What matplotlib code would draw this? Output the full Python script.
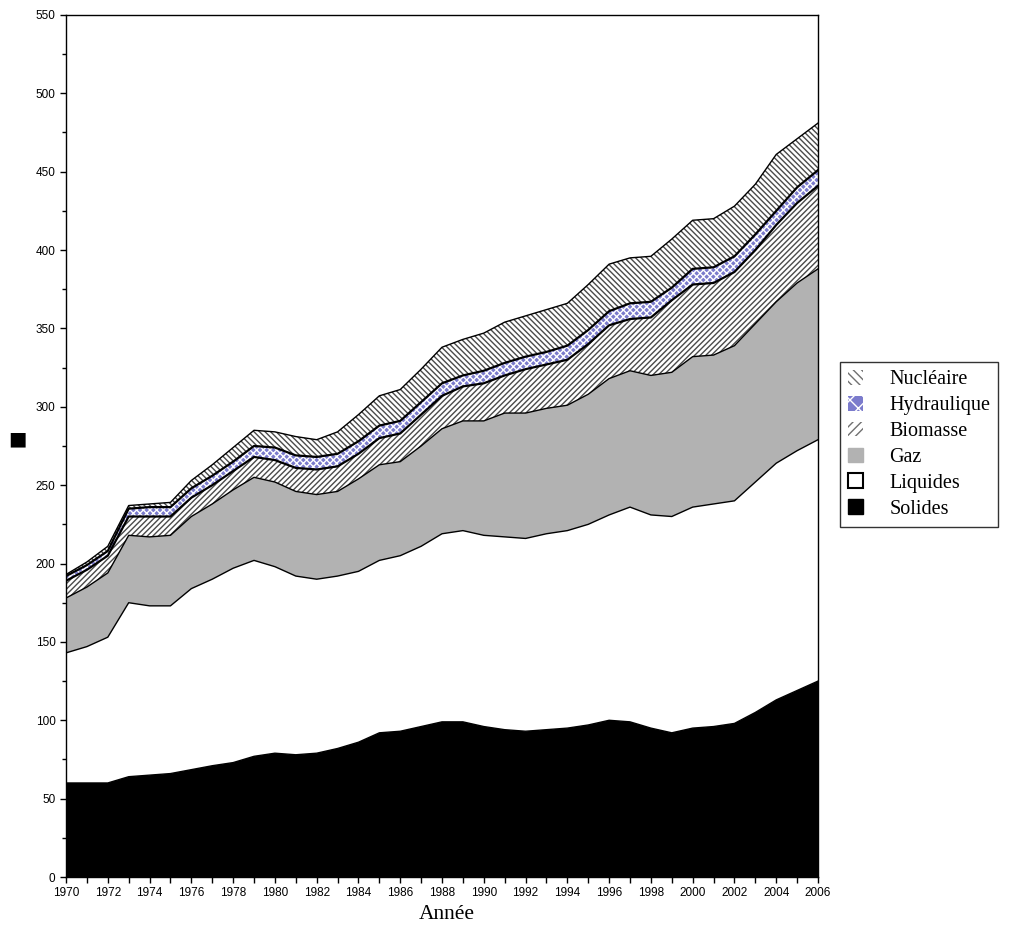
import numpy as np
import matplotlib.pyplot as plt
from matplotlib.patches import Patch

# années
annees = np.arange(1970, 2007)

# valeurs cumulées (haut de chaque couche)
solides = [60, 60, 60, 64, 65, 66, 68.5, 71, 73, 77, 79, 78, 79, 82, 86, 92, 93, 96, 99, 99,
           96, 94, 93, 94, 95, 97, 100, 99, 95, 92, 95, 96, 98, 105, 113, 119, 125]
liquides_cum = [143, 147, 153, 175, 173, 173, 184, 190, 197, 202, 198, 192, 190, 192, 195, 202, 205, 211, 219, 221,
                218, 217, 216, 219, 221, 225, 231, 236, 231, 230, 236, 238, 240, 252, 264, 272, 279]
gaz_cum = [178, 185, 194, 218, 217, 218, 230, 238, 247, 255, 252, 246, 244, 246, 254, 263, 265, 275, 286, 291,
           291, 296, 296, 299, 301, 308, 318, 323, 320, 322, 332, 333, 339, 353, 367, 379, 388]
biomasse_cum = [189, 196, 205, 230, 230, 230, 242, 250, 259, 268, 266, 261, 260, 262, 270, 280, 283, 295, 307, 313,
                315, 320, 324, 327, 330, 340, 352, 356, 357, 368, 378, 379, 386, 400, 416, 430, 441]
hydraulique_cum = [192, 199, 208, 235, 236, 236, 248, 256, 265, 275, 274, 269, 268, 270, 278, 288, 291, 303, 315, 320,
                   323, 328, 332, 335, 339, 349, 361, 366, 367, 376, 388, 389, 396, 410, 425, 440, 451]
nucleaire_cum = [193, 201, 211, 237, 238, 239, 253, 263, 274, 285, 284, 281, 279, 284, 295, 307, 311, 324, 338, 343,
                 347, 354, 358, 362, 366, 378, 391, 395, 396, 407, 419, 420, 428, 442, 461, 471, 481]

labels = ['Nucléaire', 'Hydraulique', 'Biomasse', 'Gaz', 'Liquides', 'Solides']

plt.rcParams['hatch.linewidth'] = 1.0

fig = plt.figure(figsize=(10.22, 9.33), dpi=100)
ax = fig.add_axes([0.0646, 0.060, 0.7358, 0.924])

zero = np.zeros(len(annees))
couches = [zero, solides, liquides_cum, gaz_cum, biomasse_cum, hydraulique_cum, nucleaire_cum]
couches = [np.array(c, dtype=float) for c in couches]

# remplissages
ax.fill_between(annees, couches[0], couches[1], facecolor='black', linewidth=0)
ax.fill_between(annees, couches[1], couches[2], facecolor='white', linewidth=0)
ax.fill_between(annees, couches[2], couches[3], facecolor='#b2b2b2', linewidth=0)
ax.fill_between(annees, couches[3], couches[4], facecolor='white', edgecolor='#4a4a4a',
                hatch='//////', linewidth=0)
ax.fill_between(annees, couches[4], couches[5], facecolor='#7b7bcc', edgecolor='white',
                hatch='xxxxx', linewidth=0)
ax.fill_between(annees, couches[5], couches[6], facecolor='white', edgecolor='#4a4a4a',
                hatch='\\\\\\\\\\\\', linewidth=0)

# contours
for i, c in enumerate(couches[1:], start=1):
    lw = 1.6 if i in (4, 5) else 1.0
    ax.plot(annees, c, color='black', linewidth=lw)

ax.set_xlim(1970, 2006)
ax.set_ylim(0, 550)
ax.set_xticks(np.arange(1970, 2007, 1), minor=True)
ax.set_xticks(np.arange(1970, 2007, 2))
ax.set_yticks(np.arange(0, 551, 50))
ax.set_yticks(np.arange(0, 551, 25), minor=True)
ax.tick_params(axis='both', which='both', direction='out', length=4, width=1)
ax.tick_params(axis='y', which='minor', length=3)
ax.tick_params(labelsize=8.5)
for lab in ax.get_xticklabels() + ax.get_yticklabels():
    lab.set_fontfamily('Liberation Sans')
for s in ax.spines.values():
    s.set_linewidth(1.0)

ax.set_xlabel('Année', fontfamily='Liberation Serif', fontsize=15.5, labelpad=6)
ax.xaxis.set_label_coords(0.507, -0.033)
ax.set_ylabel('■', fontfamily='DejaVu Sans', fontsize=14, rotation=0, labelpad=28)
ax.yaxis.set_label_coords(-0.065, 0.497)

handles = [
    Patch(facecolor='white', edgecolor='#707070', hatch='\\\\\\\\', linewidth=0),
    Patch(facecolor='#7b7bcc', edgecolor='white', hatch='xx', linewidth=0),
    Patch(facecolor='white', edgecolor='#707070', hatch='////', linewidth=0),
    Patch(facecolor='#b2b2b2', edgecolor='#b2b2b2'),
    Patch(facecolor='white', edgecolor='black', linewidth=1.5),
    Patch(facecolor='black', edgecolor='black'),
]
leg = fig.legend(handles, labels, loc='upper left', bbox_to_anchor=(0.822, 0.612),
                 prop={'family': 'Liberation Serif', 'size': 14.5}, frameon=True, fancybox=False,
                 edgecolor='black', handlelength=0.75, handleheight=0.75, handletextpad=1.3,
                 labelspacing=0.32, borderpad=0.4, borderaxespad=0)
leg.get_frame().set_linewidth(1.0)

fig.savefig('out.png', dpi=100)
